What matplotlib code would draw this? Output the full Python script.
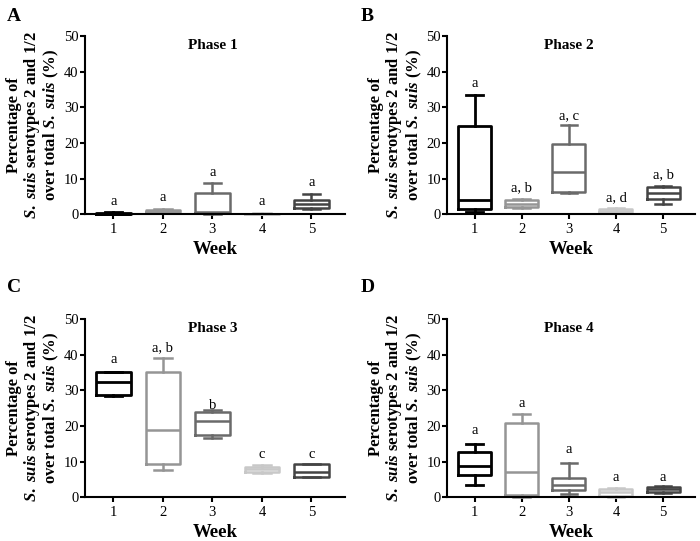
import numpy as np
import matplotlib
matplotlib.use('Agg')
import matplotlib.pyplot as plt

plt.rcParams['font.family'] = 'Liberation Serif'
plt.rcParams['mathtext.fontset'] = 'custom'
plt.rcParams['mathtext.rm'] = 'Liberation Serif:bold'
plt.rcParams['mathtext.it'] = 'Liberation Serif:italic:bold'

weeks = [1, 2, 3, 4, 5]
week_colors = ['#000000', '#959595', '#6a6a6a', '#c8c8c8', '#444444']
week_lw = [2.0, 1.8, 1.8, 1.8, 1.8]

# each week: (whislo, q1, med, q3, whishi)
phase1 = [(0.0, 0.1, 0.2, 0.4, 0.5),
          (0.3, 0.5, 1.0, 1.3, 1.4),
          (0.0, 0.3, 0.5, 5.9, 8.7),
          (0.0, 0.05, 0.1, 0.2, 0.3),
          (1.5, 1.8, 2.8, 4.0, 5.8)]
phase2 = [(0.5, 1.5, 4.0, 24.7, 33.5),
          (1.8, 2.0, 3.0, 4.0, 4.2),
          (6.0, 6.3, 12.0, 19.7, 25.0),
          (0.3, 0.5, 1.0, 1.6, 1.8),
          (2.9, 4.3, 6.0, 7.7, 8.0)]
phase3 = [(28.3, 28.8, 32.3, 35.2, 35.3),
          (7.7, 9.3, 18.8, 35.2, 39.0),
          (16.6, 17.5, 21.3, 23.8, 24.4),
          (6.8, 7.0, 8.0, 8.5, 8.9),
          (5.7, 5.8, 7.0, 9.2, 9.3)]
phase4 = [(3.3, 6.2, 8.8, 12.7, 15.0),
          (0.0, 0.5, 7.1, 20.7, 23.3),
          (1.0, 2.0, 3.3, 5.4, 9.5),
          (0.0, 0.3, 1.5, 2.4, 2.5),
          (1.1, 1.5, 2.2, 2.9, 3.0)]

labels1 = ['a', 'a', 'a', 'a', 'a']
labels2 = ['a', 'a, b', 'a, c', 'a, d', 'a, b']
labels3 = ['a', 'a, b', 'b', 'c', 'c']
labels4 = ['a', 'a', 'a', 'a', 'a']

label_y1 = [3.6, 4.8, 11.6, 3.6, 9.0]
label_y2 = [36.6, 7.4, 27.8, 4.7, 11.1]
label_y3 = [38.6, 41.9, 25.8, 12.0, 12.0]
label_y4 = [18.6, 26.3, 13.3, 5.6, 5.6]

panels = [('A', 'Phase 1', phase1, labels1, label_y1, [0.121, 0.604, 0.372, 0.329]),
          ('B', 'Phase 2', phase2, labels2, label_y2, [0.639, 0.604, 0.354, 0.329]),
          ('C', 'Phase 3', phase3, labels3, label_y3, [0.121, 0.081, 0.372, 0.329]),
          ('D', 'Phase 4', phase4, labels4, label_y4, [0.639, 0.081, 0.354, 0.329])]

letter_pos = {'A': (0.010, 0.985), 'B': (0.515, 0.985), 'C': (0.010, 0.485), 'D': (0.515, 0.485)}

fig = plt.figure(figsize=(7.0, 5.41), dpi=100)

for letter, title, data, labs, laby, rect in panels:
	ax = fig.add_axes(rect)
	for i, w in enumerate(weeks):
		lo, q1, med, q3, hi = data[i]
		st = [{'whislo': lo, 'q1': q1, 'med': med, 'q3': q3, 'whishi': hi, 'fliers': []}]
		props = dict(color=week_colors[i], linewidth=week_lw[i])
		ax.bxp(st, positions=[w], widths=0.7, showfliers=False,
			boxprops=props, medianprops=props, whiskerprops=props,
			capprops=props, manage_ticks=False)
		ax.text(w, laby[i], labs[i], ha='center', va='center', fontsize=10.5)

	for art in ax.lines:
		art.set_clip_on(False)

	ax.set_xlim(0.42, 5.68)
	ax.set_ylim(0, 50)
	ax.set_xticks(weeks)
	ax.set_yticks([0, 10, 20, 30, 40, 50])
	ax.spines['top'].set_visible(False)
	ax.spines['right'].set_visible(False)
	ax.spines['left'].set_linewidth(1.5)
	ax.spines['bottom'].set_linewidth(1.5)
	ax.tick_params(width=1.5, length=3.5, labelsize=10.5)
	ax.tick_params(axis='y', pad=1)
	ax.tick_params(axis='x', pad=3)
	ax.text(3.0, 47.5, title, ha='center', va='center', fontsize=11, fontweight='bold')
	ax.set_xlabel('Week', fontsize=13.5, fontweight='bold', labelpad=3.5)
	ax.set_ylabel('Percentage of\n$S.\\ suis$ serotypes 2 and 1/2\nover total $S.\\ suis$ (%)',
		fontsize=12, fontweight='bold', labelpad=2, linespacing=1.0)

	lx, ly = letter_pos[letter]
	fig.text(lx, ly, letter, fontsize=14, fontweight='bold', ha='left', va='top')

plt.savefig('out.png', dpi=100)
plt.close()
